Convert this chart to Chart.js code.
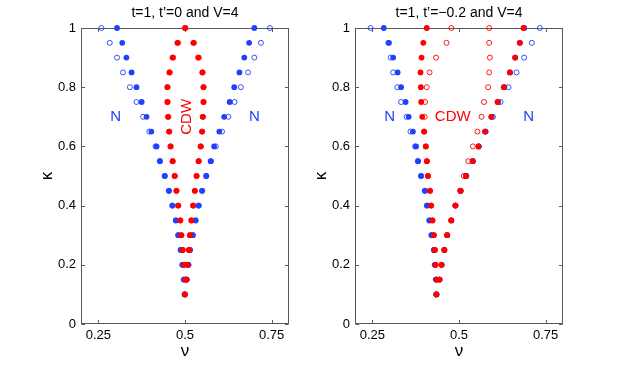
<!DOCTYPE html>
<html>
<head>
<meta charset="utf-8">
<script src="https://cdn.jsdelivr.net/npm/chart.js@4.4.1/dist/chart.umd.min.js"></script>
<style>
  body { margin: 0; background: #fff; }
  #wrap { position: relative; width: 622px; height: 365px; }
  #wrap canvas { position: absolute; left: 0; top: 0; }
</style>
</head>
<body>
<div id="wrap">
  <canvas id="panelA" width="622" height="365"></canvas>
  <canvas id="panelB" width="622" height="365"></canvas>
</div>
<script>
// kappa rows shared by both panels
const kappa = [1, 0.95, 0.9, 0.85, 0.8, 0.75, 0.7, 0.65, 0.6, 0.55, 0.5, 0.45, 0.4, 0.35, 0.3, 0.25, 0.2, 0.15, 0.1];
const xTicks = [0.25, 0.5, 0.75];
const yTicks = [0, 0.2, 0.4, 0.6, 0.8, 1];

// panel A: t=1, t'=0, V=4  (lo = left branch, hi = right branch)
const blueFilledA_lo = [0.304, 0.319, 0.331, 0.346, 0.360, 0.375, 0.389, 0.403, 0.418, 0.428, 0.442, 0.454, 0.464, 0.474, 0.481, 0.488, 0.493, 0.497, 0.499];
const blueFilledA_hi = [0.700, 0.685, 0.671, 0.657, 0.642, 0.629, 0.613, 0.599, 0.584, 0.574, 0.561, 0.549, 0.539, 0.530, 0.522, 0.514, 0.510, 0.505, null];
const blueOpenA_lo = [0.259, 0.283, 0.304, 0.321, 0.341, 0.360, 0.379, 0.397, 0.415, 0.427, 0.441, 0.453, 0.463, 0.473, 0.480, 0.487, 0.492, 0.496, 0.499];
const blueOpenA_hi = [0.745, 0.719, 0.700, 0.682, 0.661, 0.643, 0.625, 0.607, 0.589, 0.575, 0.562, 0.550, 0.540, 0.531, 0.523, 0.515, 0.510, 0.505, null];
const redFilledA_lo = [0.500, 0.478, 0.464, 0.455, 0.449, 0.449, 0.451, 0.454, 0.458, 0.464, 0.470, 0.475, 0.480, 0.486, 0.489, 0.493, 0.497, 0.501, 0.500];
const redFilledA_hi = [null, 0.524, 0.538, 0.550, 0.553, 0.553, 0.551, 0.549, 0.545, 0.539, 0.533, 0.528, 0.523, 0.518, 0.514, 0.511, 0.507, 0.504, null];
const redOpenA_lo = [0.501, 0.480, 0.466, 0.456, 0.450, 0.450, 0.452, 0.455, 0.459, 0.465, 0.471, 0.476, 0.481, 0.487, 0.490, 0.494, 0.498, 0.501, 0.500];
const redOpenA_hi = [null, 0.526, 0.540, 0.551, 0.554, 0.554, 0.552, 0.550, 0.546, 0.540, 0.534, 0.529, 0.524, 0.519, 0.515, 0.512, 0.508, 0.504, null];

// panel B: t=1, t'=-0.2, V=4
const blueFilledB_lo = [0.283, 0.298, 0.310, 0.323, 0.333, 0.346, 0.355, 0.367, 0.376, 0.382, 0.391, 0.402, 0.408, 0.415, 0.421, 0.428, 0.431, 0.434, 0.435];
const blueFilledB_hi = [0.688, 0.676, 0.662, 0.647, 0.631, 0.613, 0.594, 0.576, 0.557, 0.540, 0.521, 0.505, 0.490, 0.478, 0.466, 0.458, 0.450, 0.444, null];
const blueOpenB_lo = [0.245, 0.296, 0.303, 0.310, 0.322, 0.333, 0.349, 0.360, 0.373, 0.381, 0.390, 0.401, 0.407, 0.414, 0.420, 0.427, 0.430, 0.433, 0.434];
const blueOpenB_hi = [0.733, 0.710, 0.688, 0.666, 0.643, 0.620, 0.598, 0.577, 0.557, 0.540, 0.521, 0.504, null, null, null, null, null, null, null];
const redFilledB_lo = [0.407, 0.397, 0.392, 0.389, 0.390, 0.391, 0.394, 0.399, 0.404, 0.407, 0.410, 0.416, 0.419, 0.423, 0.427, 0.430, 0.432, 0.435, 0.435];
const redFilledB_hi = [0.686, 0.675, 0.662, 0.647, 0.629, 0.611, 0.593, 0.575, 0.556, 0.539, 0.520, 0.505, 0.490, 0.478, 0.466, 0.458, 0.450, 0.444, null];
const redOpenB_lo = [0.478, 0.464, 0.434, 0.415, 0.407, 0.402, 0.401, 0.400, 0.405, 0.408, 0.411, 0.417, 0.420, 0.424, 0.428, 0.431, 0.433, 0.436, 0.435];
const redOpenB_hi = [0.587, 0.587, 0.589, 0.587, 0.584, 0.572, 0.565, 0.553, 0.540, 0.527, 0.514, 0.503, 0.489, 0.477, 0.465, 0.457, 0.449, 0.443, null];

const BLUE = 'rgb(32,64,255)';
const RED = 'rgb(255,0,0)';
const FONT = '"Liberation Sans", Arial, Helvetica, sans-serif';

function toPoints(lo, hi) {
    const pts = [];
    kappa.forEach((k, i) => {
        if (lo[i] !== null) pts.push({ x: lo[i], y: k });
        if (hi[i] !== null) pts.push({ x: hi[i], y: k });
    });
    return pts;
}

function filledSet(pts, color) {
    return { data: pts, pointRadius: 2.9, pointBackgroundColor: color, pointBorderWidth: 0, showLine: false, clip: false };
}
function openSet(pts, color) {
    return { data: pts, pointRadius: 2.5, pointBackgroundColor: 'rgba(0,0,0,0)', pointBorderColor: color, pointBorderWidth: 0.9, showLine: false, clip: false };
}

// frame, inward ticks, title, axis symbols and region labels
const panelDecor = {
    id: 'panelDecor',
    beforeDatasetsDraw(chart, args, opts) {
        const { ctx, chartArea: a, scales: { x, y } } = chart;
        ctx.save();
        ctx.strokeStyle = '#5a5a5a';
        ctx.lineWidth = 1;
        const L = Math.round(a.left) + 0.5, R = Math.round(a.right) - 0.5;
        const T = Math.round(a.top) + 0.5, B = Math.round(a.bottom) - 0.5;
        ctx.strokeRect(L, T, R - L, B - T);
        const tl = 3.5;
        ctx.beginPath();
        xTicks.forEach(v => {
            const px = Math.round(x.getPixelForValue(v)) + 0.5;
            ctx.moveTo(px, B); ctx.lineTo(px, B - tl);
            ctx.moveTo(px, T); ctx.lineTo(px, T + tl);
        });
        yTicks.forEach(v => {
            const py = Math.round(y.getPixelForValue(v)) + 0.5;
            ctx.moveTo(L, py); ctx.lineTo(L + tl, py);
            ctx.moveTo(R, py); ctx.lineTo(R - tl, py);
        });
        ctx.stroke();
        ctx.restore();
    },
    afterDraw(chart, args, opts) {
        const { ctx, chartArea: a, scales: { x, y } } = chart;
        const cx = (a.left + a.right) / 2;
        ctx.save();
        ctx.fillStyle = '#000';
        ctx.textAlign = 'center';
        ctx.textBaseline = 'middle';
        ctx.font = '14px ' + FONT;
        ctx.fillText(opts.title, cx, a.top - 15);
        ctx.font = '17px ' + FONT;
        ctx.fillText('\u03bd', cx, a.bottom + 27);
        ctx.save();
        ctx.translate(a.left - 34, (a.top + a.bottom) / 2);
        ctx.rotate(-Math.PI / 2);
        ctx.fillText('\u03ba', 0, 0);
        ctx.restore();
        opts.labels.forEach(l => {
            ctx.save();
            ctx.fillStyle = l.color;
            ctx.font = '15px ' + FONT;
            ctx.translate(x.getPixelForValue(l.x), y.getPixelForValue(l.y));
            if (l.vertical) ctx.rotate(-Math.PI / 2);
            ctx.fillText(l.text, 0, 0);
            ctx.restore();
        });
        ctx.restore();
    }
};

function makePanel(id, padLeft, padRight, title, labels, datasets) {
    return new Chart(document.getElementById(id), {
        type: 'scatter',
        data: { datasets: datasets },
        plugins: [panelDecor],
        options: {
            responsive: false,
            animation: false,
            events: [],
            layout: { padding: { left: padLeft, right: padRight, top: 28, bottom: 0 } },
            plugins: {
                legend: { display: false },
                tooltip: { enabled: false },
                panelDecor: { title: title, labels: labels }
            },
            scales: {
                x: {
                    type: 'linear',
                    min: 0.2,
                    max: 0.8,
                    grid: { display: false, tickLength: 0 },
                    border: { display: false },
                    afterBuildTicks: s => { s.ticks = xTicks.map(v => ({ value: v })); },
                    afterFit: s => { s.height = 41; },
                    ticks: { color: '#000', padding: 4, font: { family: FONT, size: 13 }, callback: v => String(v) }
                },
                y: {
                    type: 'linear',
                    min: 0,
                    max: 1,
                    grid: { display: false, tickLength: 0 },
                    border: { display: false },
                    afterBuildTicks: s => { s.ticks = yTicks.map(v => ({ value: v })); },
                    afterFit: s => { s.width = 81; },
                    ticks: { color: '#000', padding: 5, font: { family: FONT, size: 13 }, callback: v => String(v) }
                }
            }
        }
    });
}

makePanel('panelA', 0, 333, 't=1, t\u2019=0 and V=4', [
    { text: 'N', x: 0.30, y: 0.70, color: BLUE },
    { text: 'CDW', x: 0.504, y: 0.70, color: RED, vertical: true },
    { text: 'N', x: 0.70, y: 0.70, color: BLUE }
], [
    filledSet(toPoints(redFilledA_lo, redFilledA_hi), RED),
    openSet(toPoints(redOpenA_lo, redOpenA_hi), RED),
    filledSet(toPoints(blueFilledA_lo, blueFilledA_hi), BLUE),
    openSet(toPoints(blueOpenA_lo, blueOpenA_hi), BLUE)
]);

makePanel('panelB', 274, 59, 't=1, t\u2019=\u22120.2 and V=4', [
    { text: 'N', x: 0.30, y: 0.70, color: BLUE },
    { text: 'CDW', x: 0.482, y: 0.70, color: RED },
    { text: 'N', x: 0.701, y: 0.70, color: BLUE }
], [
    filledSet(toPoints(redFilledB_lo, redFilledB_hi), RED),
    openSet(toPoints(redOpenB_lo, redOpenB_hi), RED),
    filledSet(toPoints(blueFilledB_lo, blueFilledB_hi), BLUE),
    openSet(toPoints(blueOpenB_lo, blueOpenB_hi), BLUE)
]);
</script>
</body>
</html>
